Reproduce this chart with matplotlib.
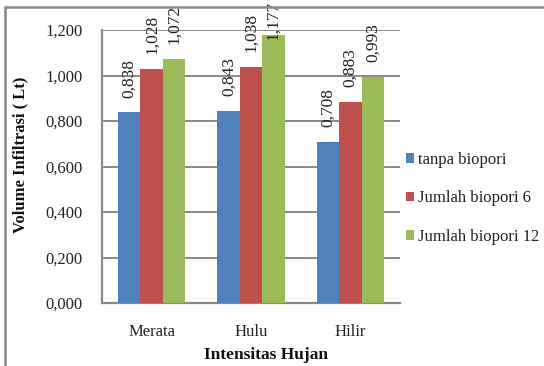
import matplotlib
matplotlib.use("Agg")
import matplotlib.pyplot as plt
from matplotlib.patches import Rectangle
import numpy as np

plt.rcParams['font.family'] = ['Liberation Serif', 'DejaVu Serif']

kategori = ["Merata", "Hulu", "Hilir"]
seri = ["tanpa biopori", "Jumlah biopori 6", "Jumlah biopori 12"]
tanpa_biopori = [0.838, 0.843, 0.708]
biopori_6 = [1.028, 1.038, 0.883]
biopori_12 = [1.072, 1.177, 0.993]
yticks = [0.0, 0.2, 0.4, 0.6, 0.8, 1.0, 1.2]

warna = ["#4F81BD", "#C0504D", "#9BBB59"]


def fmt(v):
    return f"{v:.3f}".replace(".", ",")


fig = plt.figure(figsize=(5.44, 3.66), dpi=100)
ax = fig.add_axes([102 / 544, 1 - 303 / 366, 298 / 544, 273 / 366])

x = np.arange(len(kategori))
w = 0.225
for i, (nama, vals) in enumerate(zip(seri, [tanpa_biopori, biopori_6, biopori_12])):
    pos = x + (i - 1) * w
    ax.bar(pos, vals, width=w, color=warna[i], label=nama, zorder=3)
    for px, v in zip(pos, vals):
        # keep labels of tall bars from running off the chart
        ly = min(v + 0.065, 1.157)
        ax.text(px, ly, fmt(v), rotation=90, ha="center", va="bottom",
                fontsize=12.5, color="#222222", zorder=4)

ax.set_xlim(-0.5, 2.5)
ax.set_ylim(0, 1.2)
ax.set_yticks(yticks)
ax.set_yticklabels([fmt(t) for t in yticks])
ax.set_xticks(x)
ax.set_xticklabels(kategori)
ax.tick_params(axis="y", length=0, pad=14, labelsize=12, colors="#222222")
ax.tick_params(axis="x", length=0, pad=15, labelsize=12, colors="#222222")
ax.grid(axis="y", color="#8a8a8a", linewidth=1.4, zorder=0)

for s in ["top", "right"]:
    ax.spines[s].set_visible(False)
for s in ["left", "bottom"]:
    ax.spines[s].set_color("#8a8a8a")
    ax.spines[s].set_linewidth(1.6)

fig.text(20 / 544, 1 - 155 / 366, "Volume Infiltrasi ( Lt)", rotation=90,
         ha="center", va="center", fontsize=12, fontweight="bold", color="#111111")
fig.text(266 / 544, 1 - 355 / 366, "Intensitas Hujan", ha="center", va="center",
         fontsize=12.5, fontweight="bold", color="#111111")

leg = ax.legend(loc="upper left", bbox_to_anchor=(399 / 544, 1 - 145 / 366),
                bbox_transform=fig.transFigure, frameon=False, fontsize=12,
                handlelength=0.5, handleheight=0.5, handletextpad=0.25,
                labelspacing=1.35, borderaxespad=0)
for t in leg.get_texts():
    t.set_color("#222222")

# chart frame (only top and left edges fall inside the image)
fig.patches.append(Rectangle((5 / 544, -0.1), 1.2, 1 - 7 / 366 + 0.1,
                             transform=fig.transFigure, fill=False,
                             edgecolor="#8a8a8a", linewidth=1.8))

fig.savefig("out.png", dpi=100)
